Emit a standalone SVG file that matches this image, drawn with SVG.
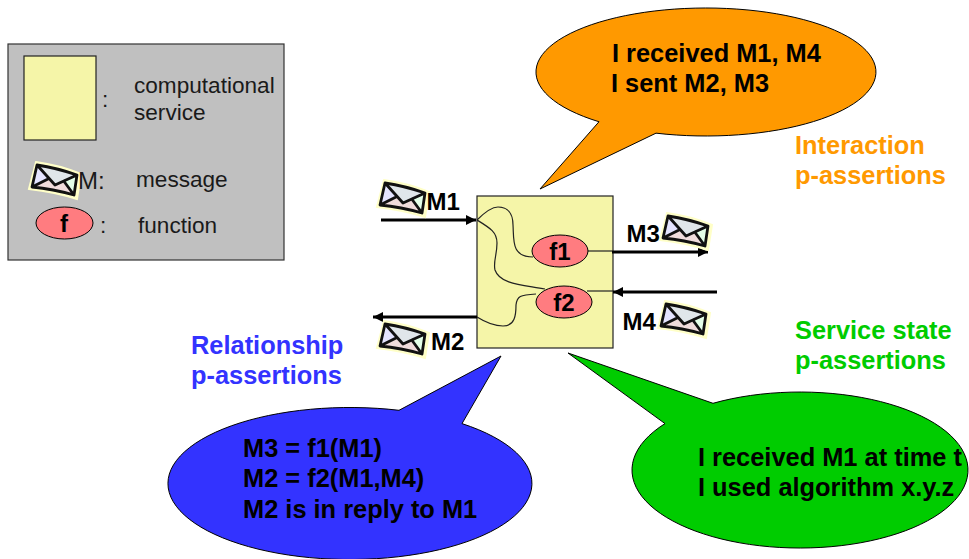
<svg xmlns="http://www.w3.org/2000/svg" width="969" height="559" viewBox="0 0 969 559">
<style>
text{font-family:"Liberation Sans",Arial,sans-serif;fill:#000}
.b{font-weight:bold;font-size:25.4px}
.l{font-weight:bold;font-size:24px}
.n{font-size:22.6px;fill:#1a1a1a}
.fn{fill:#ff7c80;stroke:#000;stroke-width:1}
.svc{fill:#f5f5a8;stroke:#222;stroke-width:1.2}
.w{fill:none;stroke:#222;stroke-width:1.2}
.a{fill:none;stroke:#000;stroke-width:3;marker-end:url(#h)}
.c{stroke:#000;stroke-width:1}
</style>
<defs>
<marker id="h" markerUnits="userSpaceOnUse" markerWidth="11" markerHeight="10" refX="10" refY="5" orient="auto"><path d="M0 0L10 5L0 10z" fill="#000"/></marker>
<g id="env">
<path d="M-1 -3Q22 0 44 9L40 34Q18 27 -8 24z" fill="#ffffc8" stroke="#ffffc8" stroke-width="2"/>
<path d="M0 0Q20 3 40 10L37 30Q16 24 -5 22z" fill="#e0e6ea"/>
<path d="M0 0L-5 22L13 13z" fill="#e4e4ff"/>
<path d="M40 10L37 30L26 15z" fill="#e4ffe8"/>
<path d="M-5 22Q16 24 37 30L26 16L18 20L13 13z" fill="#f0dcdc"/>
<path d="M0 0Q20 3 40 10L37 30Q16 24 -5 22z M0 0L18 20L40 10 M-5 22L13 13 M37 30L26 15" fill="none" stroke="#111" stroke-width="2.8" stroke-linejoin="round"/>
</g>
</defs>
<g id="legend">
<rect x="8" y="44" width="276" height="216" fill="#c0c0c0" stroke="#333" stroke-width="1.2"/>
<rect class="svc" x="24" y="56" width="72" height="84"/>
<text class="n" x="102" y="107">:</text>
<text class="n" x="134" y="93">computational</text>
<text class="n" x="134" y="120">service</text>
<use href="#env" x="37" y="165"/>
<text class="n" x="78" y="189" style="font-size:24px">M:</text>
<text class="n" x="136" y="187">message</text>
<ellipse class="fn" cx="64.5" cy="223" rx="28.5" ry="16"/>
<text class="l" x="64" y="232" text-anchor="middle">f</text>
<text class="n" x="100" y="233">:</text>
<text class="n" x="138" y="233">function</text>
</g>
<g id="orange-callout">
<path class="c" d="M540 189L599 121.74A170 64 0 1 1 656 133.17z" fill="#ff9900"/>
<text class="b" x="612" y="62">I received M1, M4</text>
<text class="b" x="611" y="92">I sent M2, M3</text>
</g>
<text id="interaction" class="b" x="795" y="154" style="fill:#ff9900">Interaction</text>
<text id="interaction2" class="b" x="795" y="184" style="fill:#ff9900">p-assertions</text>
<text id="state" class="b" x="795" y="339" style="fill:#00cc00">Service state</text>
<text id="state2" class="b" x="795" y="369" style="fill:#00cc00">p-assertions</text>
<text id="rel" class="b" x="191" y="354" style="fill:#3333ff">Relationship</text>
<text id="rel2" class="b" x="191" y="384" style="fill:#3333ff">p-assertions</text>
<g id="blue-callout">
<path class="c" d="M501 356L399 410.3A182 76 0 1 0 462 423.6z" fill="#3333ff"/>
<text class="b" x="243" y="457">M3 = f1(M1)</text>
<text class="b" x="243" y="487">M2 = f2(M1,M4)</text>
<text class="b" x="243" y="518">M2 is in reply to M1</text>
</g>
<g id="green-callout">
<path class="c" d="M568 353L713 403.3A168 78 0 1 1 665 423.6z" fill="#00cc00"/>
<text class="b" x="698" y="466">I received M1 at time t</text>
<text class="b" x="698" y="496">I used algorithm x.y.z</text>
</g>
<g id="service"><rect class="svc" x="477" y="196" width="136" height="152"/></g>
<g id="connectors">
<path class="w" d="M477 220C485 212 492 207 498 207C508 207 513 214 513 225C514 240 511 257 533 257"/>
<path class="w" d="M477 220C490 228 497 232 497 243C497 255 493 262 495 270C500 285 525 285 545 289"/>
<path class="w" d="M536 294C520 295 517 296 516 305C516 315 515 326 503 326C495 326 485 322 477 317"/>
<path class="w" d="M588 251L612 251"/>
<path class="w" d="M587 291L613 291"/>
<path class="a" d="M381 220L476 220"/>
<path class="a" d="M612 252L708 252"/>
<path class="a" d="M717 292L613 292"/>
<path class="a" d="M477 317L373 317"/>
</g>
<g id="f1"><ellipse class="fn" cx="560" cy="251" rx="28" ry="16"/><text class="l" x="560" y="260" text-anchor="middle">f1</text></g>
<g id="f2"><ellipse class="fn" cx="564" cy="302" rx="28" ry="16"/><text class="l" x="564" y="311" text-anchor="middle">f2</text></g>
<g id="m1"><use href="#env" x="385" y="183"/><text class="l" x="426.5" y="210">M1</text></g>
<g id="m2"><use href="#env" x="385" y="324"/><text class="l" x="431" y="350">M2</text></g>
<g id="m3"><use href="#env" x="668" y="216"/><text class="l" x="626.5" y="242">M3</text></g>
<g id="m4"><use href="#env" x="666" y="304"/><text class="l" x="622.5" y="330">M4</text></g>
</svg>
